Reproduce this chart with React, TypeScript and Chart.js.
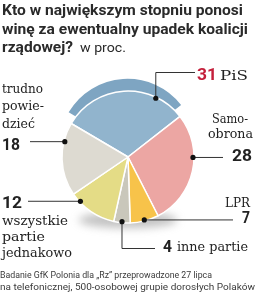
import React, { useEffect, useRef } from "react";
import { Chart, registerables } from "chart.js";

Chart.register(...registerables);

// ---- data ----
const categories = ["PiS", "Samoobrona", "LPR", "inne partie", "wszystkie partie jednakowo", "trudno powiedzieć"];
const values = [31, 28, 7, 4, 12, 18];
const sliceColors = ["#91b4cd", "#eca6a3", "#f7c34a", "#c9c7bb", "#e4dc86", "#dddad1"];
const rimColors = ["#7ea5c2", "rgba(0,0,0,0)", "rgba(0,0,0,0)", "rgba(0,0,0,0)", "rgba(0,0,0,0)", "rgba(0,0,0,0)"];
const rimOffsets = [40, 0, 0, 0, 0, 0];
const titleLines = ["Kto w największym stopniu ponosi", "winę za ewentualny upadek koalicji", "rządowej?"];
const unitLabel = "w proc.";
const footerLines = [
  "Badanie GfK Polonia dla „Rz” przeprowadzone 27 lipca",
  "na telefonicznej, 500-osobowej grupie dorosłych Polaków",
];

const TEXT = "#222222";
const RED = "#c41f3b";
const SERIF = "'DejaVu Serif'";
const SANS = "Roboto";

function txt(ctx: CanvasRenderingContext2D, s: string, x: number, y: number, font: string, color: string, w?: number) {
  ctx.save();
  ctx.font = font;
  ctx.fillStyle = color;
  ctx.textBaseline = "alphabetic";
  ctx.textAlign = "left";
  const m = ctx.measureText(s).width;
  ctx.translate(x, y);
  if (w && m > 0) ctx.scale(w / m, 1);
  ctx.fillText(s, 0, 0);
  ctx.restore();
}

const shadowPlugin = {
  id: "pieShadow",
  beforeDatasetsDraw(chart: any) {
    const arc = chart.getDatasetMeta(1).data[0];
    if (!arc) return;
    const ctx = chart.ctx as CanvasRenderingContext2D;
    ctx.save();
    ctx.filter = "blur(4px)";
    ctx.fillStyle = "rgba(120,120,120,0.45)";
    ctx.beginPath();
    ctx.ellipse(arc.x, arc.y + arc.outerRadius - 3, arc.outerRadius * 0.75, 8, 0, 0, Math.PI * 2);
    ctx.fill();
    ctx.restore();
  },
};

const labelPlugin = {
  id: "labels",
  afterDraw(chart: any) {
    const ctx = chart.ctx as CanvasRenderingContext2D;
    const meta = chart.getDatasetMeta(1);
    const fracs = [0.76, 0.38, 0.5, 0.5, 0.8, 0.74];
    const dots = meta.data.map((a: any, i: number) => {
      const ang = a.startAngle + fracs[i] * (a.endAngle - a.startAngle);
      const r = a.outerRadius - 1;
      return { x: a.x + r * Math.cos(ang), y: a.y + r * Math.sin(ang) };
    });

    // title
    const tf = `bold 15px ${SANS}`;
    txt(ctx, titleLines[0], 2, 15, tf, "#2a2a2a", 241);
    txt(ctx, titleLines[1], 2, 34, tf, "#2a2a2a", 246);
    txt(ctx, titleLines[2], 2, 52, tf, "#2a2a2a", 71);
    txt(ctx, unitLabel, 80, 52, `13px ${SANS}`, "#2a2a2a", 46);

    // leader lines
    ctx.save();
    ctx.strokeStyle = "#333";
    ctx.lineWidth = 1;
    const line = (pts: number[][]) => {
      ctx.beginPath();
      ctx.moveTo(pts[0][0], pts[0][1]);
      for (let k = 1; k < pts.length; k++) ctx.lineTo(pts[k][0], pts[k][1]);
      ctx.stroke();
    };
    const d = dots;
    line([[d[0].x, d[0].y], [d[0].x, 72.5], [195, 72.5]]);
    line([[d[1].x, d[1].y], [223, d[1].y]]);
    line([[d[2].x, d[2].y], [233, d[2].y]]);
    line([[d[3].x, d[3].y], [d[3].x, 248.5], [155, 248.5]]);
    line([[d[4].x, d[4].y], [28, d[4].y]]);
    line([[d[5].x, d[5].y], [30, d[5].y]]);
    ctx.fillStyle = "#111";
    d.forEach((p: any) => {
      ctx.beginPath();
      ctx.arc(p.x, p.y, 2.6, 0, Math.PI * 2);
      ctx.fill();
    });
    ctx.restore();

    const nf = `bold 17px ${SANS}`;
    const lf = `13px ${SERIF}`;
    // PiS
    txt(ctx, String(values[0]), 197, 80, nf, RED, 20);
    txt(ctx, "PiS", 220, 80, lf, TEXT, 28);
    // Samoobrona
    txt(ctx, "Samo-", 212, 123, lf, TEXT, 36);
    txt(ctx, "obrona", 208, 138, lf, TEXT, 45);
    txt(ctx, String(values[1]), 232, 161, nf, TEXT, 20);
    // LPR
    txt(ctx, "LPR", 225, 207, lf, TEXT, 25);
    txt(ctx, String(values[2]), 242, 223, nf, TEXT, 8);
    // inne partie
    txt(ctx, String(values[3]), 163, 252, nf, TEXT, 9);
    txt(ctx, "inne partie", 177, 251, lf, TEXT, 71);
    // wszystkie
    txt(ctx, String(values[4]), 2, 208, nf, TEXT, 20);
    txt(ctx, "wszystkie", 2, 225, lf, TEXT, 66);
    txt(ctx, "partie", 2, 241, lf, TEXT, 43);
    txt(ctx, "jednakowo", 2, 257, lf, TEXT, 70);
    // trudno
    txt(ctx, "trudno", 2, 93, lf, TEXT, 41);
    txt(ctx, "powie-", 2, 110, lf, TEXT, 42);
    txt(ctx, "dzieć", 2, 128, lf, TEXT, 33);
    txt(ctx, String(values[5]), 2, 150, nf, TEXT, 18);

    // footer
    txt(ctx, footerLines[0], 0, 278, `9px ${SANS}`, "#3a3a3a", 212);
    txt(ctx, footerLines[1], 0, 290, `9px ${SANS}`, "#3a3a3a", 255);
  },
};

export default function App() {
  const ref = useRef<HTMLCanvasElement>(null);
  useEffect(() => {
    document.body.style.margin = "0";
    const canvas = ref.current!;
    const chart = new Chart(canvas, {
      type: "pie",
      data: {
        labels: categories,
        datasets: [
          {
            data: values,
            backgroundColor: rimColors,
            borderWidth: 0,
            offset: rimOffsets,
            radius: 67.5,
            weight: 1,
            order: 2,
          } as any,
          {
            data: values,
            backgroundColor: sliceColors,
            borderColor: "#ffffff",
            borderWidth: 1.5,
            radius: 132,
            weight: 1,
            order: 1,
          } as any,
        ],
      },
      options: {
        responsive: false,
        animation: false,
        events: [],
        rotation: -59.5,
        layout: { padding: { left: 50, right: 49, top: 79, bottom: 57 } },
        plugins: { legend: { display: false }, tooltip: { enabled: false }, title: { display: false } },
      } as any,
      plugins: [shadowPlugin, labelPlugin],
    });
    return () => chart.destroy();
  }, []);
  return <canvas ref={ref} width={255} height={292} style={{ display: "block" }} />;
}
